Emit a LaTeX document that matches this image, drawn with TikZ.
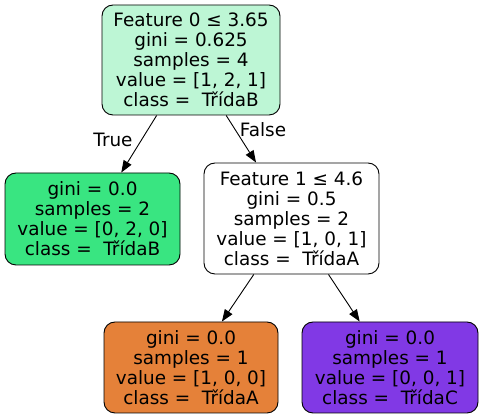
\documentclass[tikz,border=0pt]{standalone}
\usepackage{fontspec}
\setmainfont{DejaVu Sans}
\usetikzlibrary{arrows.meta}
\definecolor{rootfill}{HTML}{BDF6D5}
\definecolor{classB}{HTML}{39E581}
\definecolor{classA}{HTML}{E58139}
\definecolor{classC}{HTML}{8139E5}
\tikzset{
  treenode/.style={draw=black, line width=0.9pt, rounded corners=11pt, align=center,
    inner sep=0pt, font=\fontsize{18.4}{20}\selectfont},
  treeedge/.style={line width=0.9pt, -{Triangle[length=12pt,width=9pt]}},
  edgelabel/.style={font=\fontsize{18.4}{20}\selectfont, inner sep=0pt}
}
\begin{document}
\begin{tikzpicture}[x=1pt,y=-1pt]
\useasboundingbox (0,0) rectangle (483,419);
\node[treenode, fill=rootfill, minimum width=178pt, minimum height=110pt] (n0) at (191,60)
  {Feature 0 ≤ 3.65\\gini = 0.625\\samples = 4\\value = [1, 2, 1]\\class =~~TřídaB};
\node[treenode, fill=classB, minimum width=175pt, minimum height=92pt] (n1) at (92.5,219)
  {gini = 0.0\\samples = 2\\value = [0, 2, 0]\\class =~~TřídaB};
\node[treenode, fill=white, minimum width=175pt, minimum height=111pt] (n2) at (291.5,218.5)
  {Feature 1 ≤ 4.6\\gini = 0.5\\samples = 2\\value = [1, 0, 1]\\class =~~TřídaA};
\node[treenode, fill=classA, minimum width=174pt, minimum height=91pt] (n3) at (191,367.5)
  {gini = 0.0\\samples = 1\\value = [1, 0, 0]\\class =~~TřídaA};
\node[treenode, fill=classC, minimum width=176pt, minimum height=91pt] (n4) at (390,367.5)
  {gini = 0.0\\samples = 1\\value = [0, 0, 1]\\class =~~TřídaC};
\draw[treeedge] (n0) -- (n1);
\draw[treeedge] (n0) -- (n2);
\draw[treeedge] (n2) -- (n3);
\draw[treeedge] (n2) -- (n4);
\node[edgelabel] (lt) at (113,140) {True};
\node[edgelabel] (lf) at (263,130) {False};
\end{tikzpicture}
\end{document}
